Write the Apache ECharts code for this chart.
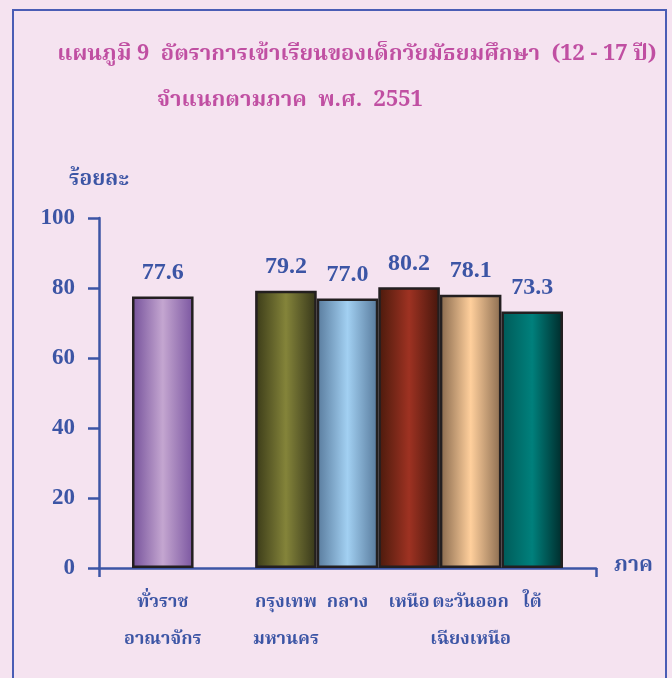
<!DOCTYPE html>
<html>
<head>
<meta charset="utf-8">
<script src="https://cdn.jsdelivr.net/npm/echarts@6/dist/echarts.min.js"></script>
<style>
html, body { margin: 0; padding: 0; background: #f5e3f0; }
#chart { width: 672px; height: 678px; }
</style>
</head>
<body>
<div id="chart"></div>
<script>
// regions (the blank one is the gap after the whole-kingdom bar)
const regions = ['ทั่วราช\nอาณาจักร', '', 'กรุงเทพ\nมหานคร', 'กลาง', 'เหนือ', 'ตะวันออก\nเฉียงเหนือ', 'ใต้']
const rates = [77.6, null, 79.2, 77.0, 80.2, 78.1, 73.3]
const yTicks = [0, 20, 40, 60, 80, 100]

// edge / centre / edge colours for the cylinder look
const barShades = [
  ['#74509a', '#c4a6d0', '#7a55a0'],
  null,
  ['#3a3a18', '#84843a', '#35351a'],
  ['#587a9c', '#a2d0f2', '#56789a'],
  ['#4a1a0c', '#9e3222', '#44160c'],
  ['#86684c', '#ffcf9c', '#8a6c50'],
  ['#005a58', '#00807c', '#002a2a']
]

const blue = '#3c55a5'
const pink = '#c04fa2'
const thai = "'Noto Serif Thai', 'Noto Sans Thai', Loma, Garuda, 'Liberation Serif', serif"
const num = "'Liberation Serif', 'DejaVu Serif', serif"

const chart = echarts.init(document.getElementById('chart'))

const barData = rates.map((v, i) => {
  if (v === null) return null
  const s = barShades[i]
  return {
    value: v,
    itemStyle: {
      color: new echarts.graphic.LinearGradient(0, 0, 1, 0, [
        { offset: 0, color: s[0] },
        { offset: 0.5, color: s[1] },
        { offset: 1, color: s[2] }
      ])
    }
  }
})

chart.setOption({
  backgroundColor: '#f5e3f0',
  animation: false,
  title: [
    {
      text: 'แผนภูมิ 9  อัตราการเข้าเรียนของเด็กวัยมัธยมศึกษา  (12 - 17 ปี)',
      left: 352,
      top: 40,
      textAlign: 'center',
      textStyle: { color: pink, fontSize: 22, fontWeight: 'bold', fontFamily: thai }
    },
    {
      text: 'จำแนกตามภาค  พ.ศ.  2551',
      left: 152,
      top: 86,
      textStyle: { color: pink, fontSize: 22, fontWeight: 'bold', fontFamily: thai }
    }
  ],
  graphic: [
    {
      type: 'rect',
      shape: { x: 13, y: 10, width: 653, height: 700 },
      style: { fill: 'none', stroke: '#4a5db5', lineWidth: 2 },
      silent: true
    }
  ],
  grid: [
    { left: 99, right: 76, top: 218, bottom: 110 },
    { left: 132, right: 109, top: 218, bottom: 110 }
  ],
  xAxis: [
    {
      gridIndex: 0,
      type: 'value',
      min: 0,
      max: 1,
      interval: 1,
      name: 'ภาค',
      nameLocation: 'end',
      nameGap: 18,
      nameTextStyle: { color: blue, fontSize: 21, fontWeight: 'bold', fontFamily: thai, verticalAlign: 'middle' },
      axisLine: { lineStyle: { color: blue, width: 2.5 } },
      axisTick: { show: true, length: 9, lineStyle: { color: blue, width: 2.5 } },
      axisLabel: { show: false },
      splitLine: { show: false }
    },
    {
      gridIndex: 1,
      type: 'category',
      data: regions,
      axisLine: { show: false },
      axisTick: { show: false },
      axisLabel: {
        interval: 0,
        margin: 18,
        color: blue,
        fontSize: 18,
        fontWeight: 'bold',
        lineHeight: 37,
        fontFamily: thai
      }
    }
  ],
  yAxis: [
    {
      gridIndex: 0,
      type: 'value',
      min: 0,
      max: 100,
      interval: 20,
      name: 'ร้อยละ',
      nameLocation: 'end',
      nameGap: 26,
      nameTextStyle: { color: blue, fontSize: 21, fontWeight: 'bold', fontFamily: thai, align: 'center' },
      axisLine: { show: true, lineStyle: { color: blue, width: 2.5 } },
      axisTick: { show: true, length: 11, lineStyle: { color: blue, width: 2.5 } },
      axisLabel: { color: blue, fontSize: 23, fontWeight: 'bold', fontFamily: num, margin: 24 },
      splitLine: { show: false }
    },
    {
      gridIndex: 1,
      type: 'value',
      min: 0,
      max: 100,
      interval: 20,
      show: false
    }
  ],
  series: [
    {
      type: 'bar',
      xAxisIndex: 1,
      yAxisIndex: 1,
      barWidth: '100%',
      data: barData,
      itemStyle: { borderColor: '#231f20', borderWidth: 2.5 },
      label: {
        show: true,
        position: 'top',
        distance: 12,
        color: blue,
        fontSize: 24,
        fontWeight: 'bold',
        fontFamily: num,
        formatter: p => p.value.toFixed(1)
      }
    }
  ]
})
</script>
</body>
</html>
